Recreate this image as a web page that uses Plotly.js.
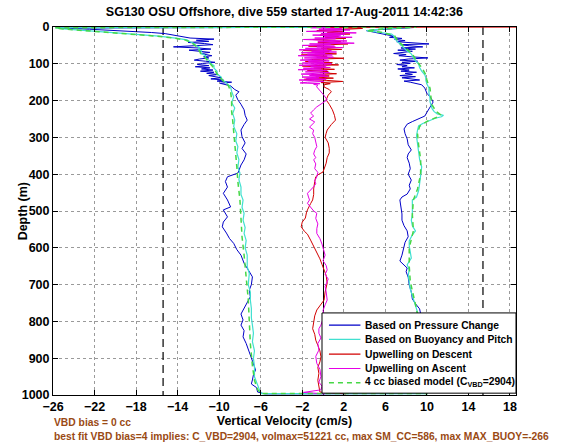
<!DOCTYPE html>
<html><head><meta charset="utf-8">
<script src="https://cdn.plot.ly/plotly-3.0.1.min.js"></script>
<style>html,body{margin:0;padding:0;background:#fff;}#chart{width:561px;height:442px;}</style>
</head><body><div id="chart"></div>
<script>
// ---- axis / reference values ----
const xTicks = [-26,-22,-18,-14,-10,-6,-2,2,6,10,14,18];
const yTicks = [0,100,200,300,400,500,600,700,800,900,1000];
const limitLines = [-15.4, 15.4];
const limitDepths = [0, 1000];

// ---- Based on Pressure Change (descent then ascent) ----
const pressDescDepth = [0,3,6,9,12,15,18,21,24,27,30,33,36,39,42,45,48,51,54,57,60,63,66,69,72,75,78,81,84,87,90,93,96,99,102,105,108,111,114,117,120,123,126,129,132,135,138,141,144,147,150,153,156,160,
  170,176,185,198,210,225,240,253,265,280,298,315,330,345,361,375,390,397,407,420,435,452,470,489,497,516,530,543,560,575,588,605,620,642,660,679,700,715,733,750,765,780,796,810,825,842,860,875,887,900,915,932,945,959,970,980,992,997];
const pressDescVel = [8.5,-25.5,-22.5,-20.0,-18.0,-16.5,-15.2,-14.6,-13.8,-13.4,-12.8,-10.5,-12.2,-11.0,-13.0,-11.4,-10.6,-12.5,-14.4,-12.0,-10.8,-12.9,-11.6,-10.9,-11.8,-11.2,-10.7,-11.5,-11.0,-11.9,-12.4,-11.3,-10.4,-11.6,-12.1,-11.0,-12.3,-10.9,-11.7,-10.6,-11.8,-10.5,-11.2,-10.1,-11.0,-10.4,-9.8,-10.8,-9.6,-10.2,-8.8,-9.9,-9.3,-8.9,
  -8.5,-8.1,-8.4,-8.2,-7.9,-7.6,-7.5,-7.3,-7.6,-7.9,-7.8,-7.5,-7.8,-7.4,-7.6,-7.9,-8.1,-8.2,-9.2,-9.4,-9.2,-9.6,-9.2,-8.9,-9.6,-9.2,-9.6,-9.7,-9.3,-9.0,-8.6,-8.3,-7.9,-7.6,-7.2,-6.8,-6.9,-7.1,-7.0,-7.3,-7.6,-7.9,-7.7,-7.9,-7.6,-7.7,-7.4,-7.2,-7.0,-6.9,-6.7,-6.5,-6.7,-6.8,-6.9,-6.4,-6.3,-5.6];
const pressAscDepth = [996,985,970,955,940,925,910,895,880,865,850,835,820,805,794,780,766,752,739,720,701,680,665,655,645,636,620,600,585,570,554,540,525,508,490,470,462,454,440,430,416,400,385,370,355,345,334,320,304,290,277,270,264,257,250,242,232,223,215,204,193,180,166,157,150,147,144,141,138,135,132,129,126,123,120,117,114,111,108,105,102,99,96,93,90,87,84,81,78,75,72,69,66,63,60,57,54,51,48,46,43,40,37,34,31,28,25,22,19,16,13,10,7,4,1];
const pressAscVel = [10.0,9.9,9.7,9.8,9.6,9.7,9.5,9.6,9.4,9.5,9.6,9.4,9.5,9.6,9.5,9.4,9.3,8.9,8.6,8.5,8.3,8.2,8.0,8.1,7.7,7.4,7.6,7.8,7.9,8.2,8.1,7.8,7.6,7.6,7.5,7.4,7.6,8.1,8.4,8.3,8.5,8.2,8.4,8.3,8.1,8.2,8.5,8.2,8.1,7.9,7.8,8.0,8.1,8.6,9.2,9.8,10.0,10.2,10.4,10.6,10.4,10.0,9.8,9.5,8.4,7.8,9.3,8.2,7.6,8.9,7.4,8.6,7.9,9.0,7.5,8.3,7.2,8.8,7.6,8.1,7.1,8.4,7.6,9.1,7.4,8.2,10.1,8.5,7.3,8.0,6.8,7.7,8.6,7.2,8.9,7.5,9.6,8.3,7.4,10.2,8.0,7.1,7.9,6.9,7.6,6.4,6.8,6.2,5.8,5.3,4.8,4.2,5.5,7.5,9.0];

// ---- Based on Buoyancy and Pitch ----
const buoyDescDepth = [0,2,5,8,12,16,20,25,30,35,40,45,50,55,60,65,71,78,85,92,98,105,112,120,128,136,144,152,163,175,190,205,220,235,253,270,290,310,325,342,360,380,397,415,435,455,470,490,506,525,545,561,580,600,620,651,670,700,720,742,765,790,810,832,855,880,900,923,950,965,977,988,996];
const buoyDescVel = [8.5,-25.8,-25.0,-23.5,-21.5,-19.5,-17.8,-15.8,-14.2,-13.1,-12.8,-12.4,-12.3,-11.9,-12.0,-11.7,-11.8,-11.3,-11.3,-10.9,-10.9,-10.5,-10.5,-10.2,-10.2,-9.8,-9.7,-9.3,-8.9,-8.8,-8.6,-8.8,-8.5,-8.7,-8.5,-8.6,-8.3,-8.4,-8.2,-8.3,-8.1,-8.2,-8.0,-8.1,-7.9,-7.9,-7.7,-7.8,-7.6,-7.7,-7.5,-7.6,-7.4,-7.5,-7.3,-7.3,-7.1,-7.2,-7.0,-7.0,-6.9,-6.9,-6.8,-6.7,-6.8,-6.6,-6.7,-6.6,-6.6,-6.4,-6.3,-6.1,-5.9];
const buoyAscDepth = [996,985,970,955,940,925,910,895,880,865,850,835,820,805,785,766,748,730,712,692,675,660,646,628,610,595,581,565,554,540,525,510,490,470,462,445,426,405,380,360,334,315,296,280,269,262,255,248,244,240,236,230,222,212,203,193,180,166,155,145,138,130,120,110,101,92,83,73,65,55,46,38,30,24,19,14,10,6,3,0];
const buoyAscVel = [10.0,9.8,9.6,9.7,9.5,9.5,9.4,9.4,9.3,9.3,9.2,9.2,9.2,9.1,9.2,9.0,8.8,8.6,8.4,8.3,8.2,8.3,8.1,8.5,8.4,8.3,8.3,8.6,8.9,8.6,8.5,8.6,8.6,8.6,9.0,9.2,9.3,9.4,9.5,9.3,9.2,9.1,9.0,9.1,9.2,9.6,10.2,10.8,11.4,11.6,11.0,10.7,10.5,10.4,10.3,10.3,10.2,10.2,10.0,9.9,9.9,9.8,9.5,9.3,9.2,8.9,8.7,8.5,8.1,7.7,7.4,7.1,6.9,6.8,6.6,5.5,4.2,5.5,7.5,9.0];

// ---- Upwelling on Descent ----
const upDescDepth = [0,1,4,7,10,13,16,19,22,25,28,31,34,37,40,43,46,49,52,55,58,61,64,67,70,73,76,79,82,85,88,91,94,97,100,103,106,109,112,115,118,121,124,127,130,133,136,139,142,145,148,151,154,157,163,170,176,185,198,210,225,240,253,265,280,289,300,315,330,342,355,370,385,394,400,407,420,440,455,470,480,489,497,505,519,530,543,555,563,579,590,600,615,630,645,660,675,696,720,742,755,769,785,805,820,835,851,865,880,896,910,925,941,960,975,986,992,997];
const upDescVel = [25,0.3,3.8,1.2,-0.6,1.9,0.4,2.6,-0.3,1.5,0.2,2.2,-1.0,0.8,1.7,-0.5,2.4,0.1,-1.4,1.2,-0.2,1.8,-1.9,0.6,-0.8,1.3,-2.1,0.4,-0.6,2.0,-1.2,0.3,-1.7,0.9,-0.4,1.5,-2.0,0.2,-0.9,1.1,-1.5,0.5,-0.3,1.3,-1.1,0.6,-0.7,1.0,-1.8,0.3,1.9,-0.2,0.7,0.1,0.1,0.6,0.8,0.5,0.3,0.6,0.9,1.1,1.2,0.8,0.4,0.3,0.2,0.5,0.6,0.6,0.4,0.3,0.1,0.0,-0.4,-0.7,-0.8,-0.9,-0.9,-1.0,-1.2,-1.4,-1.5,-1.6,-1.7,-2.0,-2.1,-1.8,-1.5,-1.2,-1.0,-0.8,-0.6,-0.3,-0.1,0.1,0.3,0.4,0.2,0.1,-0.2,-0.6,-0.8,-0.9,-1.0,-0.8,-0.7,-0.5,-0.3,-0.2,-0.3,-0.5,-0.4,-0.5,-0.4,-0.4,-0.3,2.2];

// ---- Upwelling on Ascent ----
const upAscDepth = [0,2,4,6,8,10,12,14,16,18,20,22,24,26,28,30,32,34,36,38,40,42,44,46,48,50,52,54,56,58,60,62,64,66,68,70,72,74,76,78,80,82,84,86,88,90,92,94,96,98,100,102,104,106,108,110,112,114,116,118,120,122,124,126,128,130,132,134,136,138,140,142,144,146,148,150,152,154,156,158,160,
  163,175,186,198,205,210,217,225,234,242,250,258,265,272,280,290,300,312,325,335,345,355,361,372,385,395,407,418,426,434,443,452,462,470,479,490,500,506,520,535,548,561,575,590,606,620,635,648,660,672,685,705,720,742,755,770,785,796,810,820,832,845,860,878,895,914,930,950,965,976,986,993,997];
const upAscVel = [0.5,-1.2,1.8,-0.4,2.6,0.3,-1.6,1.4,3.2,-0.2,2.1,-1.0,1.7,0.1,2.8,-0.8,1.2,-1.9,0.9,2.3,-0.5,1.6,3.0,-1.3,0.7,-2.0,1.1,-0.6,1.9,-1.7,0.4,-2.3,0.8,-1.1,1.3,-2.1,0.2,-1.5,0.9,-2.4,-0.3,1.0,-1.8,0.5,-1.0,-2.2,0.6,-1.4,0.1,-2.0,0.8,-0.9,-2.3,0.3,-1.2,0.7,-1.9,-0.2,-2.4,0.4,-1.0,-1.7,0.6,-0.7,-2.1,0.2,-1.3,0.5,-2.0,-0.4,-1.6,0.3,-2.3,-0.8,0.1,-1.5,-2.2,-0.3,-0.9,-0.5,-0.6,
  -0.6,-0.2,0.1,0.4,0.0,-0.3,-0.6,-0.9,-1.2,-0.9,-1.3,-0.8,-1.1,-1.3,-0.9,-1.0,-0.8,-0.7,-0.6,-0.8,-0.9,-0.7,-0.9,-0.7,-0.8,-0.5,-0.6,-0.8,-0.7,-0.9,-1.2,-1.5,-1.4,-1.3,-1.5,-1.2,-0.9,-0.6,-0.7,-0.5,-0.6,-0.6,-0.3,-0.1,0.1,0.2,0.0,0.3,0.4,0.2,0.5,0.2,0.3,0.4,0.2,0.0,0.1,0.0,-0.2,-0.4,-0.4,-0.2,-0.5,-0.4,-0.7,-0.6,-0.3,-0.2,-0.4,-0.1,-0.2,-1.9,0.2];

// ---- 4 cc biased model ----
const modelDescDepth = [0,2,5,8,12,16,20,25,30,35,42,50,60,71,85,98,112,128,144,160,175,200,230,253,280,310,342,380,420,470,520,570,620,680,740,800,860,920,960,985,996];
const modelDescVel = [8.5,-25.8,-25.2,-23.8,-21.8,-19.8,-18.0,-16.0,-14.4,-13.3,-12.7,-12.3,-12.0,-11.8,-11.3,-10.9,-10.5,-10.2,-9.7,-9.1,-8.9,-8.8,-8.8,-8.7,-8.6,-8.5,-8.4,-8.3,-8.2,-8.0,-7.9,-7.8,-7.6,-7.4,-7.2,-7.1,-7.0,-6.8,-6.6,-6.3,-6.0];
const modelAscDepth = [996,980,950,900,850,800,766,730,692,650,600,554,510,470,440,400,360,320,290,270,255,244,238,230,212,193,166,145,130,110,92,73,55,38,24,14,10,6,3,0];
const modelAscVel = [10.0,9.7,9.6,9.4,9.3,9.2,9.0,8.7,8.4,8.3,8.3,8.7,8.6,8.7,9.1,9.4,9.4,9.2,9.1,9.3,10.1,11.1,11.3,10.9,10.5,10.4,10.3,10.0,9.9,9.5,9.0,8.6,7.9,7.2,6.9,5.6,4.2,5.5,7.5,9.0];

const seriesNames = ['Based on Pressure Change','Based on Buoyancy and Pitch','Upwelling on Descent','Upwelling on Ascent','4 cc biased model (C<sub>VBD</sub>=2904)'];
const seriesColors = ['rgb(0,0,200)','rgb(64,224,208)','rgb(210,0,0)','rgb(230,0,230)','rgb(70,215,70)'];
const seriesDash = ['solid','solid','solid','solid','5px,4px'];
const titleText = 'SG130 OSU Offshore, dive 559 started 17-Aug-2011 14:42:36';
const noteLines = ['VBD bias = 0 cc','best fit VBD bias=4 implies: C_VBD=2904, volmax=51221 cc, max SM_CC=586, max MAX_BUOY=-266'];

const FONT = 'Liberation Sans, Arial, Helvetica, sans-serif';

const traces = [];
limitLines.forEach(v => traces.push({
  x: [v, v], y: limitDepths, mode: 'lines', showlegend: false, hoverinfo: 'skip',
  line: {color: 'black', width: 1.2, dash: '8px,5px'}
}));
const seriesX = [pressDescVel.concat(pressAscVel), buoyDescVel.concat(buoyAscVel), upDescVel, upAscVel, modelDescVel.concat(modelAscVel)];
const seriesY = [pressDescDepth.concat(pressAscDepth), buoyDescDepth.concat(buoyAscDepth), upDescDepth, upAscDepth, modelDescDepth.concat(modelAscDepth)];
const seriesWidth = [1, 1.2, 1, 1, 1.5];
seriesNames.forEach((nm, i) => traces.push({
  x: seriesX[i], y: seriesY[i], mode: 'lines', name: nm, showlegend: false,
  line: {color: seriesColors[i], width: seriesWidth[i], dash: seriesDash[i]}
}));

// legend box drawn by hand (paper coordinates)
const legBox = {x0: 0.581, x1: 1.0, y0: 0.005, y1: 0.223};
const legRowY = [0.190, 0.151, 0.111, 0.072, 0.033];
const shapes = [{type: 'rect', xref: 'paper', yref: 'paper', layer: 'above', x0: legBox.x0, x1: legBox.x1, y0: legBox.y0, y1: legBox.y1, fillcolor: 'white', line: {color: 'black', width: 1}}];
const annotations = [];
const legFont = {family: FONT, size: 10.3, color: 'black', weight: 'bold'};
seriesNames.forEach((nm, i) => {
  shapes.push({type: 'line', xref: 'paper', yref: 'paper', layer: 'above', x0: 0.596, x1: 0.664, y0: legRowY[i], y1: legRowY[i], line: {color: seriesColors[i], width: i === 4 ? 1.5 : 1.2, dash: seriesDash[i]}});
  annotations.push({text: nm, xref: 'paper', yref: 'paper', x: 0.671, y: legRowY[i], xanchor: 'left', yanchor: 'middle', showarrow: false, font: legFont, borderpad: 0});
});

const tickFont = {family: FONT, size: 12.5, color: 'black', weight: 'bold'};
const noteFont = {family: FONT, size: 10.3, color: '#9A4A14', weight: 'bold'};
annotations.push({text: 'Depth (m)', xref: 'paper', yref: 'paper', x: -0.064, y: 0.5, textangle: -90, showarrow: false, xanchor: 'center', yanchor: 'middle', font: tickFont});
annotations.push({text: noteLines[0], xref: 'paper', yref: 'paper', x: 0, y: -0.076, xanchor: 'left', yanchor: 'middle', showarrow: false, font: noteFont, borderpad: 0});
annotations.push({text: noteLines[1], xref: 'paper', yref: 'paper', x: 0, y: -0.113, xanchor: 'left', yanchor: 'middle', showarrow: false, font: noteFont, borderpad: 0});

const layout = {
  width: 561, height: 442,
  margin: {l: 53, r: 45, t: 27, b: 47},
  paper_bgcolor: 'white', plot_bgcolor: 'white',
  showlegend: false,
  title: {text: titleText, font: {family: FONT, size: 12.5, color: 'black', weight: 'bold'}, x: 0.507, xanchor: 'center', y: 0.973, yanchor: 'middle', yref: 'container'},
  xaxis: {
    range: [-26, 18.58], tickvals: xTicks, ticktext: xTicks.map(v => v < 0 ? '\u2212' + Math.abs(v) : String(v)),
    ticks: 'inside', ticklen: 5, tickwidth: 1, tickcolor: 'black',
    showline: true, linecolor: 'black', linewidth: 1, mirror: 'ticks',
    showgrid: true, gridcolor: '#9a9a9a', gridwidth: 1, griddash: 'dot',
    zeroline: true, zerolinecolor: 'black', zerolinewidth: 1,
    tickfont: tickFont,
    title: {text: 'Vertical Velocity (cm/s)', font: tickFont, standoff: 3}
  },
  yaxis: {
    range: [1000, 0], tickvals: yTicks,
    ticks: 'inside', ticklen: 5, tickwidth: 1, tickcolor: 'black',
    showline: true, linecolor: 'black', linewidth: 1, mirror: 'ticks',
    showgrid: true, gridcolor: '#9a9a9a', gridwidth: 1, griddash: 'dot',
    zeroline: false,
    tickfont: tickFont
  },
  shapes: shapes,
  annotations: annotations
};
Plotly.newPlot('chart', traces, layout, {displayModeBar: false, staticPlot: true});
</script></body></html>
